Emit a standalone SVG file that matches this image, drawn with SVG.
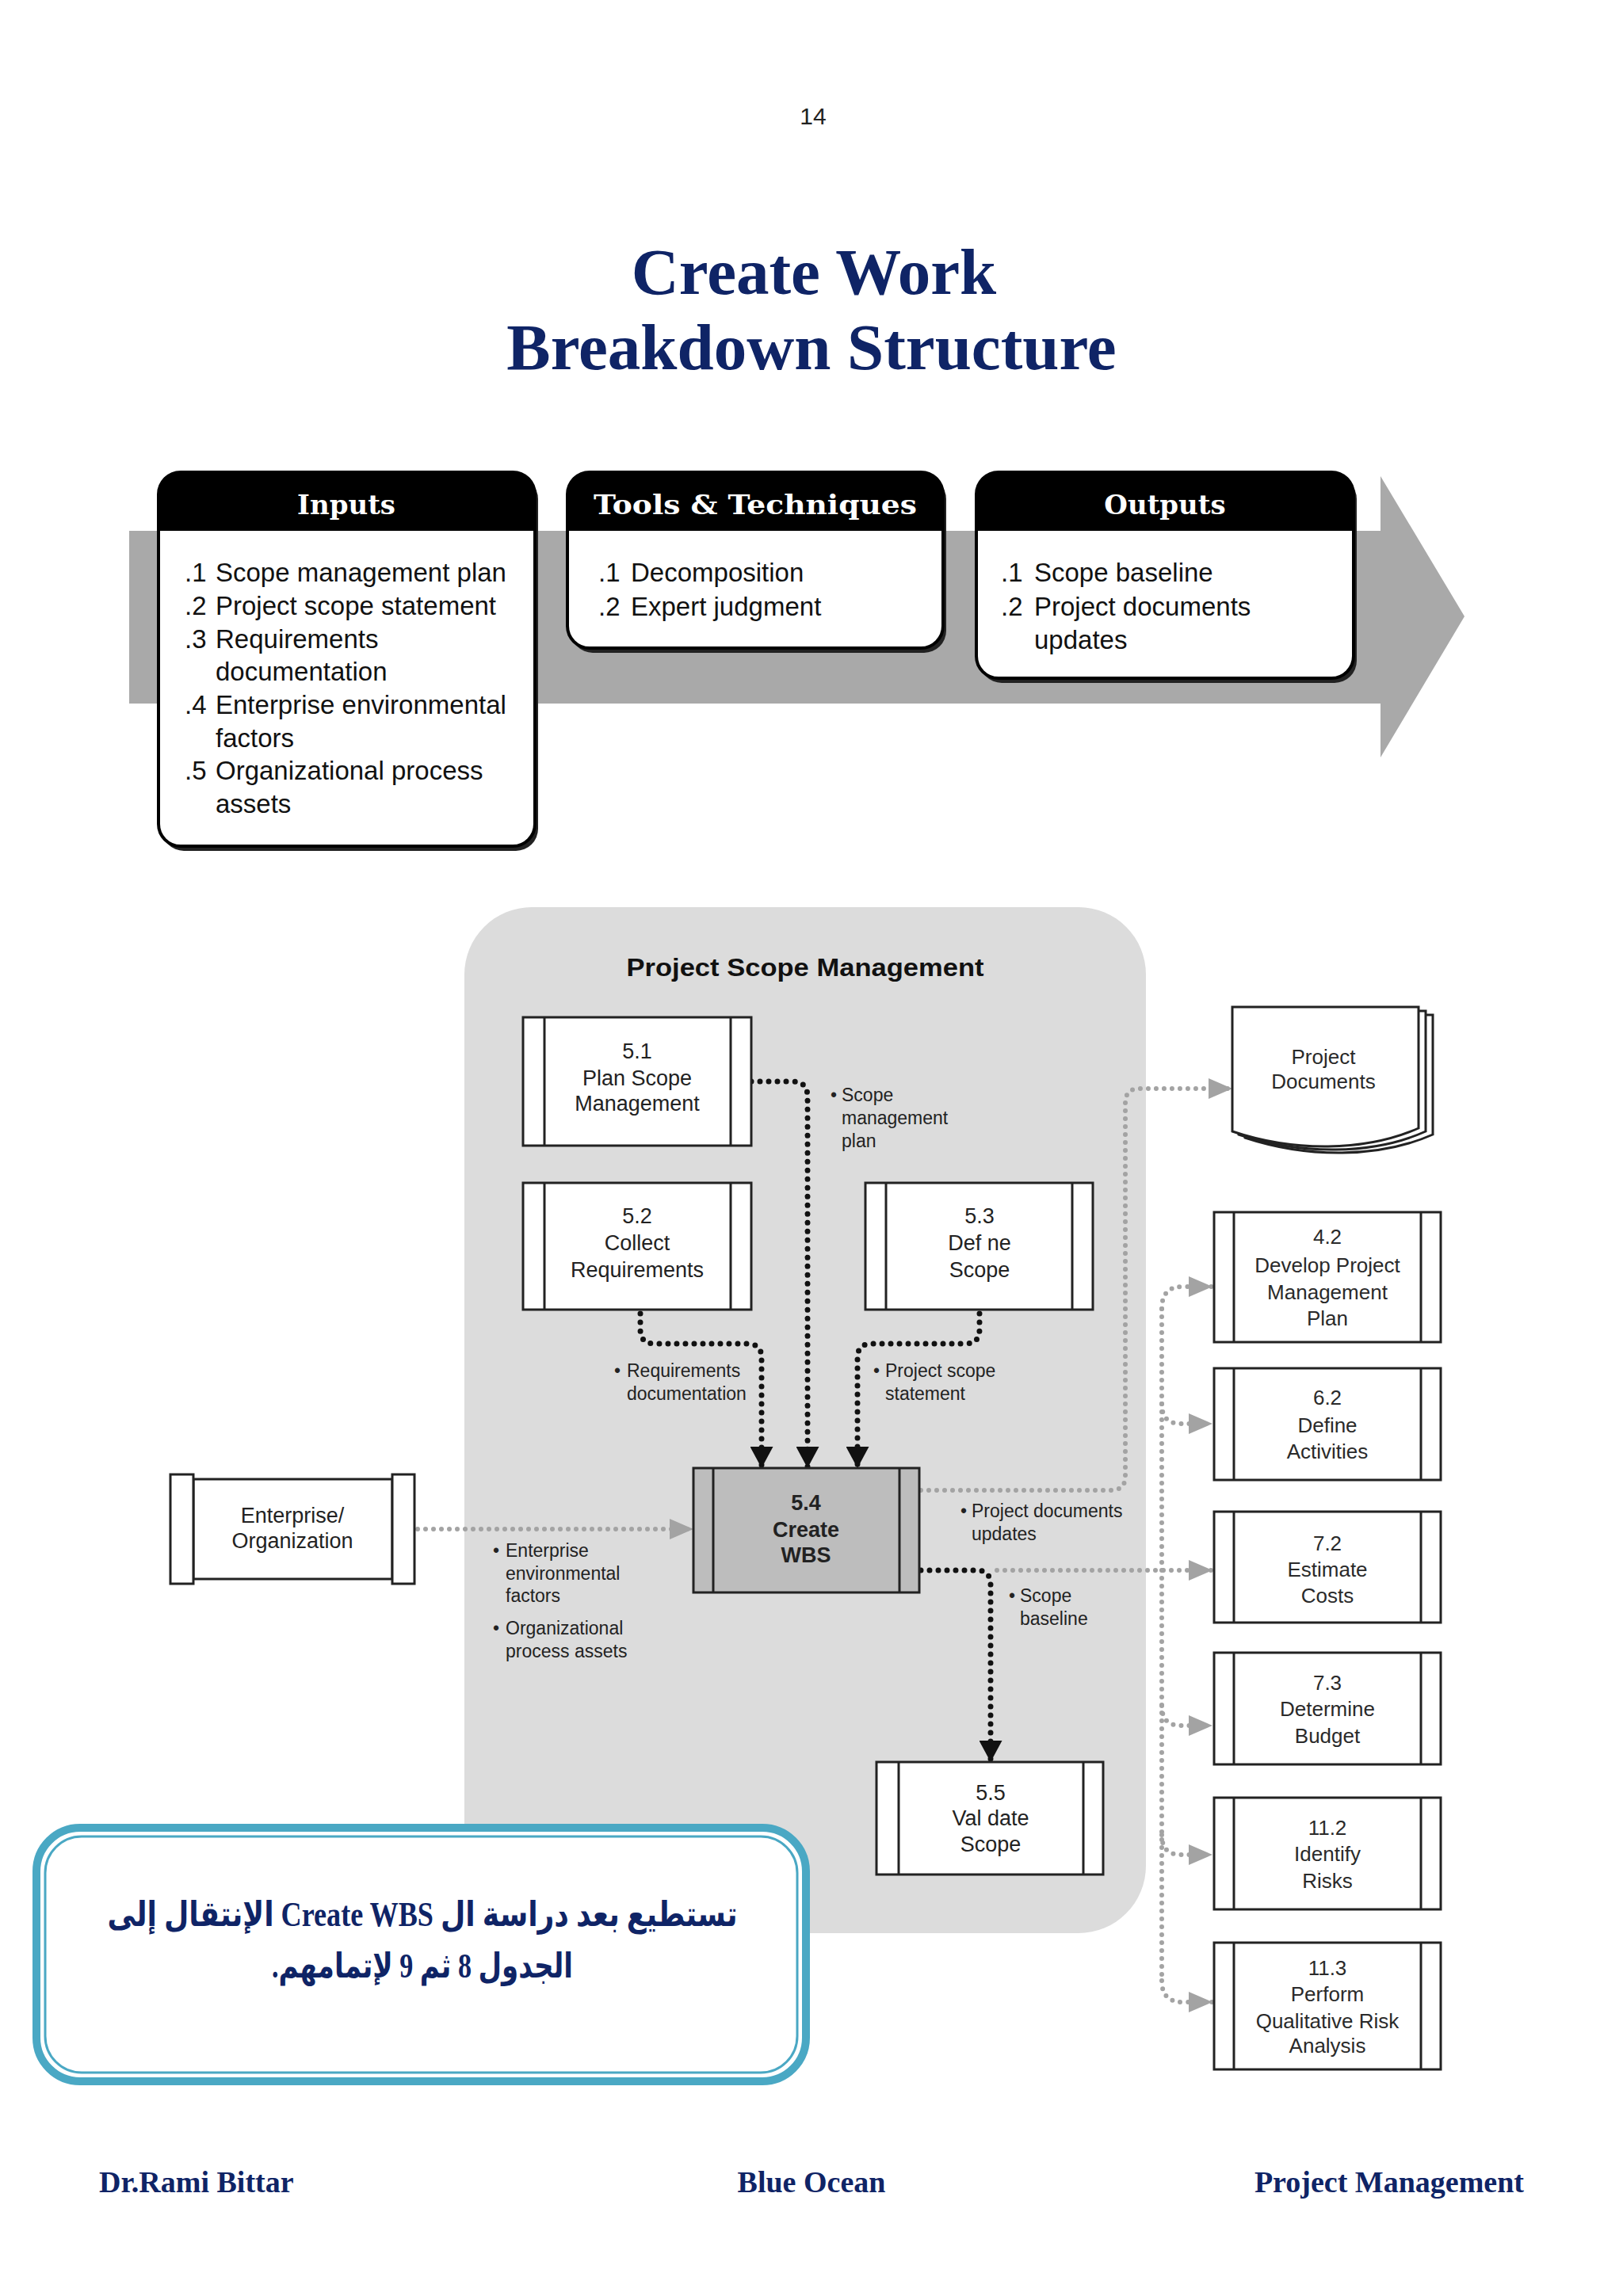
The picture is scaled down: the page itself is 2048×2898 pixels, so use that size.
<svg xmlns="http://www.w3.org/2000/svg" width="2048" height="2898" viewBox="0 0 2048 2898">
<defs>
<style>
.navy{fill:#0f2466;font-family:"Liberation Serif","Times New Roman",serif;font-weight:bold}
.hdr{font-family:"DejaVu Serif",serif;font-weight:bold;font-size:34px;fill:#fff;text-anchor:middle}
.itm{font-family:"Liberation Sans",Arial,sans-serif;font-size:33px;fill:#111}
.pt{font-family:"Liberation Sans",Arial,sans-serif;font-size:27px;fill:#222;text-anchor:middle}
.rt{font-family:"Liberation Sans",Arial,sans-serif;font-size:26px;fill:#2a2a2a;text-anchor:middle}
.lbl{font-family:"Liberation Sans",Arial,sans-serif;font-size:23px;fill:#222}
.box{fill:#fff;stroke:#222;stroke-width:3}
.bar{stroke:#222;stroke-width:3}
.tb{fill:#fff;stroke:#000;stroke-width:4}
.shadow{fill:#222}
.bk{fill:none;stroke:#111;stroke-width:7;stroke-linecap:round;stroke-dasharray:0 11}
.gr{fill:none;stroke:#a3a3a3;stroke-width:6;stroke-linecap:round;stroke-dasharray:0 10}
.ar{font-family:"Liberation Serif","DejaVu Sans",serif;font-weight:bold;font-size:44px;fill:#0f2466;text-anchor:middle}
</style>
<marker id="ab" viewBox="0 0 27 29" refX="27" refY="14.5" markerWidth="27" markerHeight="29" orient="auto" markerUnits="userSpaceOnUse"><path d="M0,0 L27,14.5 L0,29 Z" fill="#111"/></marker>
<marker id="ag" viewBox="0 0 30 26" refX="30" refY="13" markerWidth="30" markerHeight="26" orient="auto" markerUnits="userSpaceOnUse"><path d="M0,0 L30,13 L0,26 Z" fill="#a3a3a3"/></marker>
</defs>
<rect width="2048" height="2898" fill="#fff"/>

<text x="1026" y="157" font-family="Liberation Sans, Arial, sans-serif" font-size="30" fill="#222" text-anchor="middle">14</text>
<text class="navy" x="1027" y="371" font-size="83" text-anchor="middle">Create Work</text>
<text class="navy" x="1024" y="466" font-size="83" text-anchor="middle">Breakdown Structure</text>

<!-- ITTO band -->
<g id="itto-arrow">
<path d="M163,670 H1742 V601 L1848,778 L1742,956 V888 H163 Z" fill="#a9a9a9"/>
</g>
<g id="inputs">
<rect class="shadow" x="204" y="602" width="475" height="472" rx="28"/>
<rect class="tb" x="200" y="596" width="475" height="472" rx="28"/>
<path d="M200,670 V624 Q200,596 228,596 H647 Q675,596 675,624 V670 Z" fill="#000"/>
<text class="hdr" x="437" y="649">Inputs</text>
<text class="itm" x="233" y="734">.1</text><text class="itm" x="272" y="734">Scope management plan</text>
<text class="itm" x="233" y="776">.2</text><text class="itm" x="272" y="776">Project scope statement</text>
<text class="itm" x="233" y="818">.3</text><text class="itm" x="272" y="818">Requirements</text>
<text class="itm" x="272" y="859">documentation</text>
<text class="itm" x="233" y="901">.4</text><text class="itm" x="272" y="901">Enterprise environmental</text>
<text class="itm" x="272" y="943">factors</text>
<text class="itm" x="233" y="984">.5</text><text class="itm" x="272" y="984">Organizational process</text>
<text class="itm" x="272" y="1026">assets</text>
</g>
<g id="tools">
<rect class="shadow" x="720" y="602" width="474" height="222" rx="28"/>
<rect class="tb" x="716" y="596" width="474" height="222" rx="28"/>
<path d="M716,670 V624 Q716,596 744,596 H1162 Q1190,596 1190,624 V670 Z" fill="#000"/>
<text class="hdr" x="953" y="649" textLength="408" lengthAdjust="spacingAndGlyphs">Tools &amp; Techniques</text>
<text class="itm" x="755" y="734">.1</text><text class="itm" x="796" y="734">Decomposition</text>
<text class="itm" x="755" y="777">.2</text><text class="itm" x="796" y="777">Expert judgment</text>
</g>
<g id="outputs">
<rect class="shadow" x="1236" y="602" width="476" height="260" rx="28"/>
<rect class="tb" x="1232" y="596" width="476" height="260" rx="28"/>
<path d="M1232,670 V624 Q1232,596 1260,596 H1680 Q1708,596 1708,624 V670 Z" fill="#000"/>
<text class="hdr" x="1470" y="649">Outputs</text>
<text class="itm" x="1263" y="734">.1</text><text class="itm" x="1305" y="734">Scope baseline</text>
<text class="itm" x="1263" y="777">.2</text><text class="itm" x="1305" y="777">Project documents</text>
<text class="itm" x="1305" y="819">updates</text>
</g>

<!-- Project Scope Management panel -->
<g id="psm-panel">
<rect x="586" y="1145" width="860" height="1295" rx="85" fill="#dcdcdc"/>
<text x="1016" y="1232" font-family="Liberation Sans, Arial, sans-serif" font-weight="bold" font-size="32" fill="#111" text-anchor="middle" textLength="451" lengthAdjust="spacingAndGlyphs">Project Scope Management</text>
</g>

<!-- connectors -->
<g id="connectors">
<path class="bk" d="M948,1365 H1000 Q1019,1365 1019,1384 V1853" marker-end="url(#ab)"/>
<path class="bk" d="M808,1658 V1678 Q808,1696 826,1696 H943 Q961,1696 961,1714 V1853" marker-end="url(#ab)"/>
<path class="bk" d="M1236,1658 V1678 Q1236,1696 1218,1696 H1100 Q1082,1696 1082,1714 V1853" marker-end="url(#ab)"/>
<path class="bk" d="M1162,1982 H1232 Q1250,1982 1250,2000 V2224" marker-end="url(#ab)"/>
<path class="gr" d="M527,1930 H875" marker-end="url(#ag)"/>
<path class="gr" d="M1162,1881 H1402 Q1420,1881 1420,1863 V1392 Q1420,1374 1438,1374 H1555" marker-end="url(#ag)"/>
<path class="gr" d="M1258,1982 H1530" marker-end="url(#ag)"/>
<path class="gr" d="M1466,1652 V2500"/>
<path class="gr" d="M1466,1652 Q1466,1624 1492,1624 H1530" marker-end="url(#ag)"/>
<path class="gr" d="M1466,1772 Q1466,1797 1490,1797 H1530" marker-end="url(#ag)"/>
<path class="gr" d="M1466,2153 Q1466,2178 1490,2178 H1530" marker-end="url(#ag)"/>
<path class="gr" d="M1466,2316 Q1466,2341 1490,2341 H1530" marker-end="url(#ag)"/>
<path class="gr" d="M1466,2500 Q1466,2527 1492,2527 H1530" marker-end="url(#ag)"/>
<text class="lbl" x="1048" y="1390">•</text><text class="lbl" x="1062" y="1390">Scope</text>
<text class="lbl" x="1062" y="1419">management</text><text class="lbl" x="1062" y="1448">plan</text>
<text class="lbl" x="775" y="1738">•</text><text class="lbl" x="791" y="1738">Requirements</text>
<text class="lbl" x="791" y="1767">documentation</text>
<text class="lbl" x="1102" y="1738">•</text><text class="lbl" x="1117" y="1738">Project scope</text>
<text class="lbl" x="1117" y="1767">statement</text>
<text class="lbl" x="622" y="1965">•</text><text class="lbl" x="638" y="1965">Enterprise</text>
<text class="lbl" x="638" y="1994">environmental</text><text class="lbl" x="638" y="2022">factors</text>
<text class="lbl" x="622" y="2063">•</text><text class="lbl" x="638" y="2063">Organizational</text>
<text class="lbl" x="638" y="2092">process assets</text>
<text class="lbl" x="1212" y="1915">•</text><text class="lbl" x="1226" y="1915">Project documents</text>
<text class="lbl" x="1226" y="1944">updates</text>
<text class="lbl" x="1273" y="2022">•</text><text class="lbl" x="1287" y="2022">Scope</text>
<text class="lbl" x="1287" y="2051">baseline</text>
</g>

<g id="p51">
<rect class="box" x="660" y="1284" width="288" height="162"/>
<line class="bar" x1="687" y1="1284" x2="687" y2="1446"/><line class="bar" x1="922" y1="1284" x2="922" y2="1446"/>
<text class="pt" x="804" y="1336">5.1</text><text class="pt" x="804" y="1370">Plan Scope</text><text class="pt" x="804" y="1402">Management</text>
</g>
<g id="p52">
<rect class="box" x="660" y="1493" width="288" height="160"/>
<line class="bar" x1="687" y1="1493" x2="687" y2="1653"/><line class="bar" x1="922" y1="1493" x2="922" y2="1653"/>
<text class="pt" x="804" y="1544">5.2</text><text class="pt" x="804" y="1578">Collect</text><text class="pt" x="804" y="1612">Requirements</text>
</g>
<g id="p53">
<rect class="box" x="1092" y="1493" width="287" height="160"/>
<line class="bar" x1="1118" y1="1493" x2="1118" y2="1653"/><line class="bar" x1="1353" y1="1493" x2="1353" y2="1653"/>
<text class="pt" x="1236" y="1544">5.3</text><text class="pt" x="1236" y="1578">Def ne</text><text class="pt" x="1236" y="1612">Scope</text>
</g>
<g id="p54">
<rect x="875" y="1853" width="285" height="157" fill="#bdbdbd" stroke="#222" stroke-width="3"/>
<line class="bar" x1="900" y1="1853" x2="900" y2="2010"/><line class="bar" x1="1135" y1="1853" x2="1135" y2="2010"/>
<text class="pt" x="1017" y="1906" font-weight="bold" fill="#111">5.4</text>
<text class="pt" x="1017" y="1940" font-weight="bold" fill="#111">Create</text>
<text class="pt" x="1017" y="1972" font-weight="bold" fill="#111">WBS</text>
</g>
<g id="p55">
<rect class="box" x="1106" y="2224" width="286" height="142"/>
<line class="bar" x1="1134" y1="2224" x2="1134" y2="2366"/><line class="bar" x1="1367" y1="2224" x2="1367" y2="2366"/>
<text class="pt" x="1250" y="2272">5.5</text><text class="pt" x="1250" y="2304">Val date</text><text class="pt" x="1250" y="2337">Scope</text>
</g>
<g id="enterprise">
<rect class="box" x="244" y="1867" width="251" height="126"/>
<rect class="box" x="215" y="1861" width="29" height="138"/>
<rect class="box" x="495" y="1861" width="28" height="138"/>
<text class="pt" x="369" y="1922">Enterprise/</text><text class="pt" x="369" y="1954">Organization</text>
</g>

<g id="projdocs">
<path d="M1571,1281 H1808 V1432 C1740,1462 1650,1462 1571,1436 Z" class="box"/>
<path d="M1563,1276 H1799 V1428 C1732,1458 1642,1458 1563,1432 Z" class="box"/>
<path d="M1555,1271 H1790 V1424 C1722,1454 1632,1454 1555,1428 Z" class="box"/>
<text class="rt" x="1670" y="1343">Project</text><text class="rt" x="1670" y="1374">Documents</text>
</g>

<g id="p42">
<rect class="box" x="1532" y="1530" width="286" height="164"/>
<line class="bar" x1="1557" y1="1530" x2="1557" y2="1694"/><line class="bar" x1="1793" y1="1530" x2="1793" y2="1694"/>
<text class="rt" x="1675" y="1570">4.2</text><text class="rt" x="1675" y="1606">Develop Project</text><text class="rt" x="1675" y="1640">Management</text><text class="rt" x="1675" y="1673">Plan</text>
</g>
<g id="p62">
<rect class="box" x="1532" y="1727" width="286" height="141"/>
<line class="bar" x1="1557" y1="1727" x2="1557" y2="1868"/><line class="bar" x1="1793" y1="1727" x2="1793" y2="1868"/>
<text class="rt" x="1675" y="1773">6.2</text><text class="rt" x="1675" y="1808">Define</text><text class="rt" x="1675" y="1841">Activities</text>
</g>
<g id="p72">
<rect class="box" x="1532" y="1908" width="286" height="140"/>
<line class="bar" x1="1557" y1="1908" x2="1557" y2="2048"/><line class="bar" x1="1793" y1="1908" x2="1793" y2="2048"/>
<text class="rt" x="1675" y="1957">7.2</text><text class="rt" x="1675" y="1990">Estimate</text><text class="rt" x="1675" y="2023">Costs</text>
</g>
<g id="p73">
<rect class="box" x="1532" y="2086" width="286" height="141"/>
<line class="bar" x1="1557" y1="2086" x2="1557" y2="2227"/><line class="bar" x1="1793" y1="2086" x2="1793" y2="2227"/>
<text class="rt" x="1675" y="2133">7.3</text><text class="rt" x="1675" y="2166">Determine</text><text class="rt" x="1675" y="2200">Budget</text>
</g>
<g id="p112">
<rect class="box" x="1532" y="2269" width="286" height="141"/>
<line class="bar" x1="1557" y1="2269" x2="1557" y2="2410"/><line class="bar" x1="1793" y1="2269" x2="1793" y2="2410"/>
<text class="rt" x="1675" y="2316">11.2</text><text class="rt" x="1675" y="2349">Identify</text><text class="rt" x="1675" y="2383">Risks</text>
</g>
<g id="p113">
<rect class="box" x="1532" y="2452" width="286" height="160"/>
<line class="bar" x1="1557" y1="2452" x2="1557" y2="2612"/><line class="bar" x1="1793" y1="2452" x2="1793" y2="2612"/>
<text class="rt" x="1675" y="2493">11.3</text><text class="rt" x="1675" y="2526">Perform</text><text class="rt" x="1675" y="2560">Qualitative Risk</text><text class="rt" x="1675" y="2591">Analysis</text>
</g>

<g id="callout">
<rect x="46" y="2307" width="971" height="320" rx="55" fill="#fff" stroke="#4aa8c4" stroke-width="10"/>
<rect x="57" y="2318" width="949" height="298" rx="46" fill="none" stroke="#4aa8c4" stroke-width="3"/>
<text class="ar" x="533" y="2431" direction="rtl" textLength="795" lengthAdjust="spacingAndGlyphs">تستطيع بعد دراسة ال Create WBS  الإنتقال إلى</text>
<text class="ar" x="533" y="2496" direction="rtl" textLength="380" lengthAdjust="spacingAndGlyphs">الجدول 8 ثم 9 لإتمامهم.</text>
</g>

<g id="footer">
<text class="navy" x="125" y="2767" font-size="38">Dr.Rami Bittar</text>
<text class="navy" x="1024" y="2767" font-size="38" text-anchor="middle">Blue Ocean</text>
<text class="navy" x="1923" y="2767" font-size="38" text-anchor="end">Project Management</text>
</g>
</svg>
